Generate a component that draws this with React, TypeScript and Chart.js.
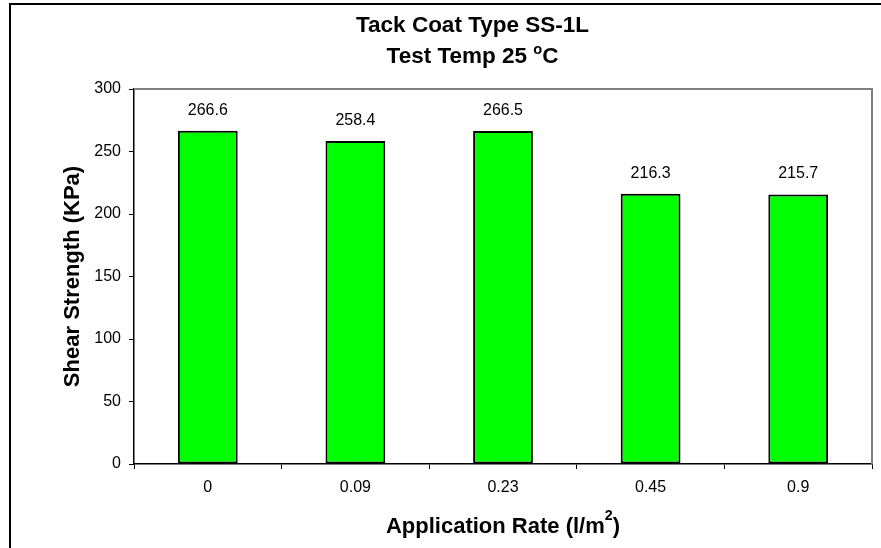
import React, { useEffect, useRef } from 'react';
import { Chart, registerables } from 'chart.js';

Chart.register(...registerables);

const categories = ['0', '0.09', '0.23', '0.45', '0.9'];
const shearStrength = [266.6, 258.4, 266.5, 216.3, 215.7];
const yTicks = [0, 50, 100, 150, 200, 250, 300];

type Part = { text: string; sup?: boolean; raise?: number };
const titleLine1: Part[] = [{ text: 'Tack Coat Type SS-1L' }];
const titleLine2: Part[] = [{ text: 'Test Temp 25 ' }, { text: 'o', sup: true, raise: 0.38 }, { text: 'C' }];
const xTitle: Part[] = [{ text: 'Application Rate (l/m' }, { text: '2', sup: true, raise: 0.6 }, { text: ')' }];
const yTitle: Part[] = [{ text: 'Shear Strength (KPa)' }];

const FAMILY = "'Liberation Sans', Arial, Helvetica, sans-serif";

function drawRich(ctx: CanvasRenderingContext2D, parts: Part[], cx: number, baseline: number, size: number, bold: boolean) {
  const weight = bold ? 'bold ' : '';
  const fontFor = (p: Part) => `${weight}${p.sup ? size * 0.65 : size}px ${FAMILY}`;
  let total = 0;
  const widths = parts.map((p) => {
    ctx.font = fontFor(p);
    const w = ctx.measureText(p.text).width;
    total += w;
    return w;
  });
  let x = cx - total / 2;
  ctx.textAlign = 'left';
  ctx.textBaseline = 'alphabetic';
  parts.forEach((p, i) => {
    ctx.font = fontFor(p);
    const y = p.sup ? baseline - size * (p.raise ?? 0.4) : baseline;
    ctx.fillText(p.text, x, y);
    x += widths[i];
  });
}

const decor = {
  id: 'decor',
  afterDraw(chart: any) {
    const ctx: CanvasRenderingContext2D = chart.ctx;
    const { left, right, top, bottom } = chart.chartArea;
    ctx.save();
    // outer chart border (left and top visible)
    ctx.fillStyle = '#000';
    ctx.fillRect(9, 3, chart.width, 2);
    ctx.fillRect(9, 3, 2, chart.height);
    // plot area border top / right
    ctx.strokeStyle = '#808080';
    ctx.lineWidth = 2;
    ctx.beginPath();
    ctx.moveTo(left, top);
    ctx.lineTo(right, top);
    ctx.lineTo(right, bottom);
    ctx.stroke();

    // data labels
    const meta = chart.getDatasetMeta(0);
    const values: number[] = chart.data.datasets[0].data;
    ctx.fillStyle = '#000';
    ctx.font = `16px ${FAMILY}`;
    ctx.textAlign = 'center';
    ctx.textBaseline = 'alphabetic';
    meta.data.forEach((bar: any, i: number) => {
      ctx.fillText(values[i].toFixed(1), bar.x, bar.y - 16);
    });

    // titles
    ctx.fillStyle = '#000';
    drawRich(ctx, titleLine1, 472.5, 32, 22.5, true);
    drawRich(ctx, titleLine2, 472.5, 63, 22.5, true);
    drawRich(ctx, xTitle, (left + right) / 2, 533, 22, true);

    ctx.save();
    ctx.translate(79, (top + bottom) / 2);
    ctx.rotate(-Math.PI / 2);
    drawRich(ctx, yTitle, 0, 0, 22, true);
    ctx.restore();

    ctx.restore();
  },
};

export default function App() {
  const ref = useRef<HTMLCanvasElement | null>(null);

  useEffect(() => {
    if (!ref.current) return;
    const chart = new Chart(ref.current, {
      type: 'bar',
      data: {
        labels: categories,
        datasets: [
          {
            data: shearStrength,
            backgroundColor: '#00FF00',
            borderColor: '#000000',
            borderWidth: 2,
            borderSkipped: false,
            barPercentage: 0.405,
            categoryPercentage: 1,
          },
        ],
      },
      options: {
        responsive: false,
        animation: false,
        devicePixelRatio: 1,
        layout: { padding: { left: 0, right: 9, top: 89, bottom: 0 } },
        plugins: {
          legend: { display: false },
          title: { display: false },
          tooltip: { enabled: false },
        },
        scales: {
          x: {
            grid: {
              display: true,
              drawOnChartArea: false,
              drawTicks: true,
              tickLength: 5,
              color: '#000',
              lineWidth: 1,
              offset: true,
            },
            border: { display: true, color: '#000', width: 1.5 },
            ticks: {
              font: { family: FAMILY, size: 16 },
              color: '#000',
              padding: 9,
              maxRotation: 0,
              autoSkip: false,
            },
            afterFit(scale: any) {
              scale.height = 84;
            },
          },
          y: {
            min: yTicks[0],
            max: yTicks[yTicks.length - 1],
            ticks: {
              stepSize: yTicks[1] - yTicks[0],
              font: { family: FAMILY, size: 16 },
              color: '#000',
              padding: 8,
            },
            grid: {
              display: true,
              drawOnChartArea: false,
              drawTicks: true,
              tickLength: 5,
              color: '#000',
              lineWidth: 1,
            },
            border: { display: true, color: '#000', width: 1.5 },
            afterFit(scale: any) {
              scale.width = 134;
            },
          },
        },
      },
      plugins: [decor],
    });
    return () => chart.destroy();
  }, []);

  return (
    <div style={{ position: 'fixed', left: 0, top: 0, width: 881, height: 548, background: '#fff' }}>
      <canvas ref={ref} width={881} height={548} style={{ display: 'block' }} />
    </div>
  );
}
